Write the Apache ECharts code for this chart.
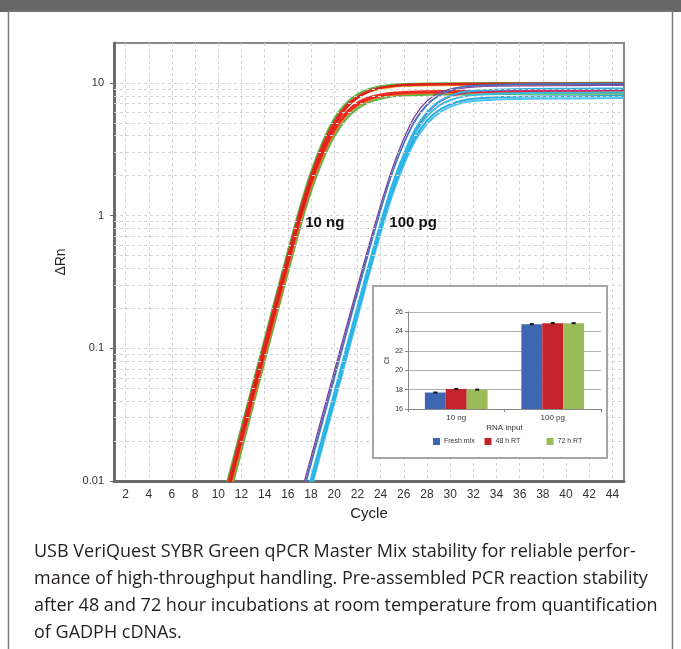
<!DOCTYPE html>
<html><head><meta charset="utf-8">
<script src="https://cdn.jsdelivr.net/npm/echarts@6/dist/echarts.min.js"></script>
<style>html,body{margin:0;padding:0;background:#fff}#c{width:681px;height:649px}</style>
</head><body><div id="c"></div>
<script>
// ---------- main amplification plot data ----------
const xTickValues = [2,4,6,8,10,12,14,16,18,20,22,24,26,28,30,32,34,36,38,40,42,44];
const yTickValues = [0.01, 0.1, 1, 10];
const yTickLabels = ['0.01', '0.1', '1', '10'];
const minorGridValues = [0.02,0.03,0.04,0.05,0.06,0.07,0.08,0.09,0.2,0.3,0.4,0.5,0.6,0.7,0.8,0.9,2,3,4,5,6,7,8,9];

const ng10Cycles = [10,11,12,13,14,15,16,17,18,19,20,21,22,23,24,25,26,28,31,35,40,45];
const ng10_green1 = [0.0055,0.0118,0.0255,0.055,0.118,0.255,0.54,1.12,2.15,3.6,5.4,7.0,8.2,9.0,9.45,9.7,9.8,9.9,9.95,10.0,10.0,10.05];
const ng10_red1   = [0.0050,0.0108,0.0235,0.051,0.110,0.237,0.50,1.05,2.0,3.4,5.1,6.7,7.9,8.7,9.2,9.45,9.6,9.7,9.75,9.8,9.8,9.85];
const ng10_yellow = [0.0046,0.0100,0.0218,0.047,0.102,0.22,0.47,0.98,1.9,3.2,4.9,6.5,7.7,8.5,9.0,9.3,9.45,9.55,9.6,9.65,9.65,9.7];
const ng10_red2   = [0.0043,0.0093,0.020,0.043,0.093,0.20,0.43,0.90,1.75,2.95,4.4,5.8,6.9,7.6,8.0,8.25,8.4,8.5,8.55,8.6,8.6,8.65];
const ng10_orange = [0.0040,0.0087,0.0188,0.040,0.087,0.188,0.40,0.85,1.65,2.8,4.2,5.6,6.7,7.4,7.85,8.1,8.25,8.35,8.4,8.45,8.45,8.5];
const ng10_green2 = [0.0036,0.0078,0.0170,0.037,0.080,0.173,0.37,0.78,1.52,2.6,3.95,5.3,6.4,7.15,7.6,7.9,8.05,8.15,8.2,8.25,8.3,8.3];
const ng10_red3   = [0.0048,0.0104,0.0225,0.048,0.104,0.225,0.48,1.0,1.9,3.15,4.6,6.0,7.1,7.8,8.2,8.45,8.55,8.65,8.7,8.7,8.75,8.75];
const ng10_red4   = [0.0044,0.0096,0.0208,0.045,0.097,0.21,0.45,0.95,1.85,3.1,4.8,6.4,7.7,8.6,9.2,9.5,9.7,9.8,9.85,9.9,9.9,9.95];

const pg100Cycles = [17,18,19,20,21,22,23,24,25,26,27,28,29,30,31,32,34,37,41,45];
const pg100_purple1 = [0.0072,0.0152,0.032,0.067,0.14,0.29,0.60,1.2,2.25,3.8,5.7,7.3,8.4,9.0,9.35,9.5,9.6,9.7,9.75,9.8];
const pg100_blue    = [0.0064,0.0135,0.028,0.059,0.124,0.26,0.54,1.1,2.1,3.5,5.2,6.8,8.0,8.8,9.3,9.55,9.7,9.8,9.85,9.9];
const pg100_purple2 = [0.0066,0.014,0.0295,0.062,0.13,0.27,0.56,1.12,2.1,3.5,5.3,6.9,8.0,8.7,9.1,9.3,9.45,9.5,9.55,9.6];
const pg100_magenta = [0.0042,0.0090,0.019,0.040,0.085,0.18,0.38,0.80,1.55,2.7,4.3,5.9,7.1,7.9,8.3,8.55,8.7,8.75,8.8,8.85];
const pg100_cyan1   = [0.0050,0.0105,0.022,0.046,0.097,0.205,0.43,0.88,1.7,2.9,4.5,6.0,7.2,8.0,8.5,8.75,8.9,9.0,9.05,9.1];
const pg100_cyan2   = [0.0047,0.0099,0.021,0.044,0.093,0.195,0.41,0.84,1.6,2.7,4.2,5.6,6.7,7.4,7.85,8.1,8.3,8.4,8.45,8.5];
const pg100_cyan3   = [0.0044,0.0093,0.0196,0.041,0.087,0.183,0.385,0.79,1.5,2.55,3.9,5.2,6.2,6.9,7.35,7.6,7.8,7.9,7.95,8.0];
const pg100_cyan4   = [0.0041,0.0087,0.0183,0.0385,0.081,0.17,0.36,0.74,1.42,2.4,3.7,4.9,5.9,6.6,7.05,7.3,7.5,7.6,7.65,7.7];

const annotationTexts = ['10 ng', '100 pg'];
const annotationCycles = [17.5, 24.75];
const annotationValues = [0.886, 0.886];

// ---------- inset bar chart data ----------
const rnaInputs = ['10 ng', '100 pg'];
const freshMix = [17.7, 24.75];
const rt48 = [18.07, 24.85];
const rt72 = [18.0, 24.85];
const ctErr = [0.04, 0.04];
const barSeriesNames = ['Fresh mix', '48 h RT', '72 h RT'];

const captionLines = [
  'USB VeriQuest SYBR Green qPCR Master Mix stability for reliable perfor-',
  'mance of high-throughput handling. Pre-assembled PCR reaction stability',
  'after 48 and 72 hour incubations at room temperature from quantification',
  'of GADPH cDNAs.'
];

// ---------- build ----------
const FONT = '"Liberation Sans", Arial, Helvetica, sans-serif';
const pair = (cycles, vals) => cycles.map((c, i) => [c, vals[i]]);

const ng10Curves = [
  [ng10_green2, '#5ab645', 2], [ng10_green1, '#5ab645', 2], [ng10_yellow, '#f8ad2f', 1.6],
  [ng10_orange, '#f26a21', 2], [ng10_red2, '#e5231f', 2], [ng10_red3, '#ee3124', 2],
  [ng10_red1, '#e8251f', 2], [ng10_red4, '#d9211c', 2]
];
const pg100Curves = [
  [pg100_magenta, '#d8246e', 1.5], [pg100_purple1, '#7d3f98', 1.3], [pg100_purple2, '#8a4a9e', 1.2],
  [pg100_blue, '#3a7cc2', 1.5], [pg100_cyan4, '#4cc4ee', 2], [pg100_cyan3, '#26abe0', 2],
  [pg100_cyan2, '#33bde9', 2], [pg100_cyan1, '#2bb5e6', 2]
];

const series = [];
series.push({
  type: 'line', xAxisIndex: 0, yAxisIndex: 0, data: [], silent: true, z: 1,
  markLine: {
    silent: true, symbol: ['none', 'none'], label: { show: false }, animation: false,
    lineStyle: { type: [3, 3], color: '#d4d4d4', width: 1 },
    data: minorGridValues.map(v => ({ yAxis: v }))
  }
});
const addCurve = (cycles, name) => ([vals, col, w], i) => series.push({
  type: 'line', name: name + i, xAxisIndex: 0, yAxisIndex: 0,
  data: pair(cycles, vals), showSymbol: false, smooth: 0.2,
  clip: true, z: 3, lineStyle: { color: col, width: w }, itemStyle: { color: col }
});
ng10Curves.forEach(addCurve(ng10Cycles, '10ng-'));
pg100Curves.forEach(addCurve(pg100Cycles, '100pg-'));
series.push({
  type: 'line', xAxisIndex: 0, yAxisIndex: 0, data: [], silent: true, z: 5,
  markPoint: {
    symbol: 'circle', symbolSize: 0, silent: true, animation: false,
    label: { show: true, position: 'inside', align: 'left', verticalAlign: 'middle',
      color: '#111', fontFamily: FONT, fontWeight: 'bold', fontSize: 15 },
    data: annotationTexts.map((t, i) => ({ coord: [annotationCycles[i], annotationValues[i]], value: t,
      label: { formatter: t } }))
  }
});

const barColors = ['#3d67b1', '#c3242b', '#9bbb59'];
[freshMix, rt48, rt72].forEach((vals, s) => series.push({
  type: 'bar', name: barSeriesNames[s], xAxisIndex: 1, yAxisIndex: 1, data: vals,
  barGap: '0%', barCategoryGap: '35%', z: 60, itemStyle: { color: barColors[s] }, silent: true
}));
const errData = [];
[freshMix, rt48, rt72].forEach((vals, s) => vals.forEach((v, ci) => errData.push([ci, v, ctErr[ci], s])));
series.push({
  type: 'custom', xAxisIndex: 1, yAxisIndex: 1, z: 62, silent: true, data: errData,
  renderItem: (params, api) => {
    const ci = api.value(0), v = api.value(1), e = api.value(2), s = api.value(3);
    const c = api.coord([ci, v]);
    const band = api.size([1, 0])[0];
    const bw = band * 0.65 / 3;
    const x = c[0] + (s - 1) * bw;
    const yTop = api.coord([ci, v + e])[1], yBot = api.coord([ci, v - e])[1];
    const h = Math.max(2, yBot - yTop);
    return { type: 'rect', shape: { x: x - 2, y: (yTop + yBot) / 2 - h / 2, width: 4, height: h },
      style: { fill: '#111' } };
  }
});

const yLabelFmt = v => {
  const idx = yTickValues.findIndex(t => Math.abs(Math.log10(t) - Math.log10(v)) < 1e-6);
  return idx >= 0 ? yTickLabels[idx] : '';
};

const option = {
  animation: false,
  textStyle: { fontFamily: FONT },
  grid: [
    { left: 114, top: 43, width: 510, height: 438, show: true, borderColor: '#8a8a8a', borderWidth: 2,
      backgroundColor: 'transparent', containLabel: false, outerBoundsMode: 'none' },
    { left: 408, top: 312, width: 193, height: 97, containLabel: false, outerBoundsMode: 'none', z: 60 }
  ],
  xAxis: [
    { type: 'value', gridIndex: 0, min: 1, max: 45,
      name: 'Cycle', nameLocation: 'middle', nameGap: 24,
      nameTextStyle: { fontSize: 15, color: '#222', fontFamily: FONT },
      axisLine: { show: true, onZero: false, lineStyle: { color: '#6b6b6b', width: 3 } },
      axisTick: { show: false, customValues: xTickValues },
      axisLabel: { customValues: xTickValues, fontSize: 12, color: '#333', margin: 8, fontFamily: FONT },
      splitLine: { show: true, lineStyle: { type: [3, 3], color: '#d4d4d4', width: 1 } } },
    { type: 'category', gridIndex: 1, data: rnaInputs, z: 60,
      name: 'RNA input', nameLocation: 'middle', nameGap: 15,
      nameTextStyle: { fontSize: 8, color: '#333', fontFamily: FONT },
      axisLine: { lineStyle: { color: '#888', width: 1 } },
      axisTick: { show: true, length: 3, lineStyle: { color: '#888' } },
      axisLabel: { fontSize: 8, color: '#333', margin: 5, fontFamily: FONT },
      splitLine: { show: false } }
  ],
  yAxis: [
    { type: 'log', logBase: 10, gridIndex: 0, min: 0.01, max: 20,
      name: 'ΔRn', nameLocation: 'middle', nameGap: 46, nameRotate: 90,
      nameTextStyle: { fontSize: 14, color: '#222', fontFamily: FONT },
      axisLine: { show: true, lineStyle: { color: '#6b6b6b', width: 3 } },
      axisTick: { show: true, length: 4, customValues: yTickValues, lineStyle: { color: '#6b6b6b', width: 1 } },
      axisLabel: { customValues: yTickValues, formatter: yLabelFmt, fontSize: 11, color: '#333', margin: 10, fontFamily: FONT },
      splitLine: { show: true, lineStyle: { type: [3, 3], color: '#d4d4d4', width: 1 } },
      minorTick: { show: false }, minorSplitLine: { show: false } },
    { type: 'value', gridIndex: 1, min: 16, max: 26, interval: 2, z: 60,
      name: 'Ct', nameLocation: 'middle', nameGap: 17, nameRotate: 90,
      nameTextStyle: { fontSize: 7, color: '#333', fontFamily: FONT },
      axisLine: { show: true, lineStyle: { color: '#888', width: 1 } },
      axisTick: { show: true, length: 3, lineStyle: { color: '#888' } },
      axisLabel: { fontSize: 7, color: '#333', margin: 5, fontFamily: FONT },
      splitLine: { show: true, lineStyle: { color: '#b0b0b0', width: 1 } } }
  ],
  legend: barSeriesNames.map((n, i) => ({
    data: [n], left: [433, 484.5, 546.5][i], top: 438, padding: 0, z: 60,
    icon: 'rect', itemWidth: 7, itemHeight: 7, itemGap: 5, selectedMode: false,
    textStyle: { fontSize: 7, color: '#333', fontFamily: FONT, padding: [0, 0, 0, -1] }
  })),
  graphic: [
    { type: 'rect', z: 0, silent: true, shape: { x: 0, y: 0, width: 681, height: 12 }, style: { fill: '#666666' } },
    { type: 'rect', z: 0, silent: true, shape: { x: 8.5, y: 11, width: 664, height: 660 },
      style: { fill: 'none', stroke: '#7a7a7a', lineWidth: 1.5 } },
    { type: 'rect', z: 50, silent: true, shape: { x: 373, y: 286, width: 234, height: 172 },
      style: { fill: '#ffffff', stroke: '#a6a6a6', lineWidth: 2 } },
    { type: 'text', z: 10, silent: true, left: 34, top: 538,
      style: { text: captionLines.join('\n'), font: '18px "Open Sans", "Noto Sans", sans-serif', fill: '#231f20', lineHeight: 27 } }
  ],
  series: series
};

const chart = echarts.init(document.getElementById('c'), null, { renderer: 'canvas', width: 681, height: 649 });
chart.setOption(option);
</script></body></html>
